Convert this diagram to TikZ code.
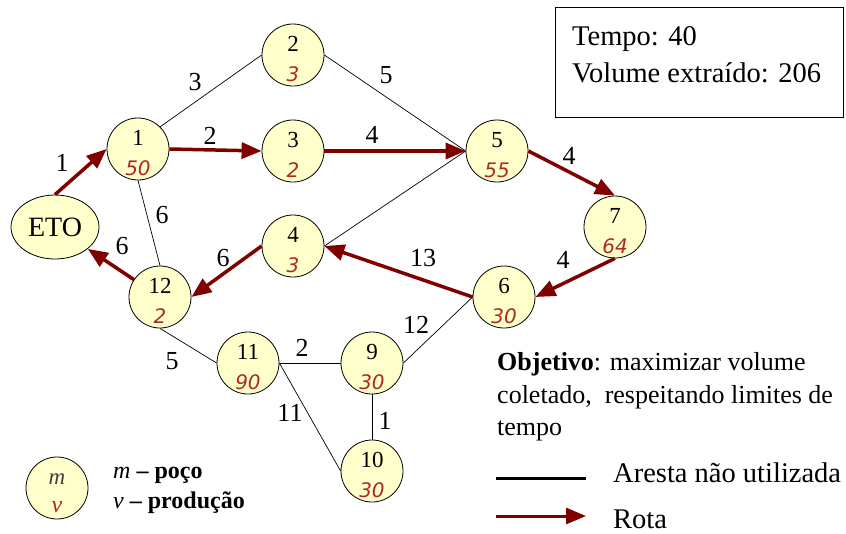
\documentclass[tikz,border=0pt]{standalone}
\usepackage{fontspec}
\setmainfont{Liberation Serif}
\newfontfamily\prodfam{DejaVu Sans}
\usetikzlibrary{arrows.meta,shapes.geometric}
\definecolor{wellfill}{RGB}{255,255,204}
\definecolor{rota}{RGB}{128,0,0}
\definecolor{prodred}{RGB}{176,40,40}
\newcommand\numf{\fontsize{23}{26}\selectfont}
\newcommand\prodf{\prodfam\itshape\fontsize{20}{24}\selectfont\color{prodred}}
\newcommand\wl[2]{\makebox[0pt][c]{\raisebox{4pt}[0pt][0pt]{\numf #1}}\makebox[0pt][c]{\raisebox{-26pt}[0pt][0pt]{\prodf #2}}}
\tikzset{
  well/.style={circle,draw=black,line width=0.8pt,fill=wellfill,minimum size=62pt,inner sep=0pt},
  edge/.style={draw=black,line width=0.7pt},
  rotaedge/.style={draw=rota,line width=3.5pt,-{Triangle[length=20pt,width=16pt]}},
  elbl/.style={font=\fontsize{26}{30}\selectfont,inner sep=0pt},
  txt/.style={inner sep=0pt,anchor=base west},
}
\begin{document}
\begin{tikzpicture}[x=1pt,y=-1pt]
\useasboundingbox (0,0) rectangle (846,533);
% nodes
\node[ellipse,draw=black,line width=0.8pt,fill=wellfill,minimum width=88pt,minimum height=64pt,inner sep=0pt,font=\fontsize{28}{32}\selectfont] (ETO) at (55,227) {ETO};
\node[well] (n1) at (138,149) {\wl{1}{50}};
\node[well] (n2) at (293,55) {\wl{2}{3}};
\node[well] (n3) at (293,151) {\wl{3}{2}};
\node[well] (n4) at (293,246) {\wl{4}{3}};
\node[well] (n5) at (497,151) {\wl{5}{55}};
\node[well] (n7) at (615,227) {\wl{7}{64}};
\node[well] (n6) at (504,297) {\wl{6}{30}};
\node[well] (n12) at (160,297) {\wl{12}{2}};
\node[well] (n11) at (248,363) {\wl{11}{90}};
\node[well] (n9) at (372,363) {\wl{9}{30}};
\node[well] (n10) at (372,471) {\wl{10}{30}};
\node[well] (leg) at (57,488) {\makebox[0pt][c]{\raisebox{4pt}[0pt][0pt]{\fontsize{23}{26}\selectfont\color{black!75}\textit{m}}}\makebox[0pt][c]{\raisebox{-24pt}[0pt][0pt]{\fontsize{24}{26}\selectfont\color{prodred}\textit{v}}}};
% unused edges
\draw[edge] (n1.north east) -- (n2.west);
\draw[edge] (n2.east) -- (n5.west);
\draw[edge] (n5.west) -- (n4.east);
\draw[edge] (n1.south) -- (n12.north);
\draw[edge] (n12.south) -- (n11.west);
\draw[edge] (n11.east) -- (n9.west);
\draw[edge] (n11.east) -- (n10.west);
\draw[edge] (n9.south) -- (n10.north);
\draw[edge] (n9.east) -- (n6.west);
% route
\draw[rotaedge] (ETO.north) -- (n1.west);
\draw[rotaedge] (n1.east) -- (n3.west);
\draw[rotaedge] (n3.east) -- (n5.west);
\draw[rotaedge] (n5.east) -- (n7.north);
\draw[rotaedge] (n7.south) -- (n6.east);
\draw[rotaedge] (n6.west) -- (n4.east);
\draw[rotaedge] (n4.west) -- (n12.east);
\draw[rotaedge] (n12) -- (ETO);
% edge labels
\node[elbl] (l12) at (195,82) {3};
\node[elbl] (l25) at (386,75) {5};
\node[elbl] (l13) at (210,136) {2};
\node[elbl] (l35) at (372,135) {4};
\node[elbl] (le1) at (62,163) {1};
\node[elbl] (l112) at (162,215) {6};
\node[elbl] (l12e) at (122,246) {6};
\node[elbl] (l412) at (223,258) {6};
\node[elbl] (l64) at (423,258) {13};
\node[elbl] (l57) at (569,156) {4};
\node[elbl] (l76) at (563,260) {4};
\node[elbl] (l96) at (416,325) {12};
\node[elbl] (l1211) at (172,361) {5};
\node[elbl] (l119) at (302,348) {2};
\node[elbl] (l1110) at (290,413) {11};
\node[elbl] (l910) at (385,421) {1};
% info box
\node[draw=black,line width=0.8pt,minimum width=288pt,minimum height=110pt,inner sep=0pt,anchor=north west] (box) at (555,7) {};
\node[txt,font=\fontsize{28.5}{32}\selectfont] (t1) at (572,45) {Tempo: 40};
\node[txt,font=\fontsize{28.5}{32}\selectfont] (t2) at (572,82) {Volume extraído: 206};
% objective
\node[txt,font=\fontsize{26}{33}\selectfont] (obj1) at (497,370) {\textbf{Objetivo}: maximizar volume};
\node[txt,font=\fontsize{26}{33}\selectfont] (obj2) at (497,403) {coletado,\ \ respeitando limites de};
\node[txt,font=\fontsize{26}{33}\selectfont] (obj3) at (497,435) {tempo};
% legend
\node[txt,font=\fontsize{24}{30}\selectfont] (lm) at (113,478) {\textit{m} \textbf{– poço}};
\node[txt,font=\fontsize{24}{30}\selectfont] (lv) at (113,508) {\textit{v} \textbf{– produção}};
\coordinate (a1) at (496,478);
\coordinate (a2) at (586,478);
\coordinate (b1) at (496,516);
\coordinate (b2) at (586,516);
\draw[black,line width=3pt] (a1) -- (a2);
\draw[rotaedge,line width=3pt] (b1) -- (b2);
\node[txt,font=\fontsize{28.5}{32}\selectfont] (la) at (613,482) {Aresta não utilizada};
\node[txt,font=\fontsize{28.5}{32}\selectfont] (lr) at (613,528) {Rota};
\end{tikzpicture}
\end{document}
